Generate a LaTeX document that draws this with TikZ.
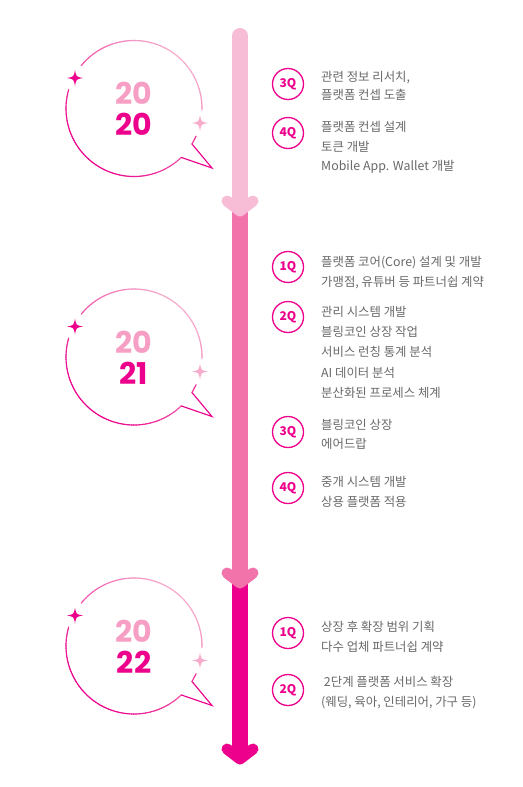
\documentclass[tikz,border=0pt]{standalone}
\usepackage{fontspec}
\newfontfamily\kr{Noto Sans CJK KR}
\newfontfamily\yr{Poppins}
\definecolor{lp}{RGB}{247,188,214}
\definecolor{mp}{RGB}{241,115,170}
\definecolor{hp}{RGB}{236,0,140}
\definecolor{gl}{RGB}{247,172,205}
\definecolor{yl}{RGB}{246,158,196}
\definecolor{tg}{RGB}{105,105,105}
\tikzset{
  bubline/.style={line width=1.15pt, line cap=round},
  shaft/.style={line width=16pt},
  chev/.style={line width=11pt, line cap=round, line join=round},
  yrtop/.style={font=\yr\bfseries\fontsize{30}{30}\selectfont, text=yl, inner sep=0pt},
  yrbot/.style={font=\yr\bfseries\fontsize{30}{30}\selectfont, text=hp, inner sep=0pt},
  qbadge/.style={circle, draw=hp, line width=1.3pt, minimum size=31pt, inner sep=0pt, text=hp, font=\kr\bfseries\fontsize{12}{12}\selectfont},
  itemtxt/.style={anchor=base west, inner sep=0pt, text=tg, font=\kr\fontsize{12.4}{14}\selectfont}
}
\newcommand\mybub[2]{%
  \begin{scope}[shift={(#1,#2)}]
    \foreach \a in {46,48,...,194} {%
      \pgfmathtruncatemacro\p{50*(1+(sin(\a+1)-cos(\a+1))/1.4142)}%
      \draw[bubline, hp!\p!gl] (\a:68) arc[start angle=\a, end angle=\a+2.2, radius=68];}
    \foreach \a in {219,221,...,359} {%
      \pgfmathtruncatemacro\p{50*(1+(sin(\a+1)-cos(\a+1))/1.4142)}%
      \draw[bubline, hp!\p!gl] (\a:68) arc[start angle=\a, end angle=\a+2.2, radius=68];}
    \draw[bubline, hp, line join=miter] (46:68) -- (78,59.5) -- (58,35.5);
    \draw[bubline, hp!75!gl] (58,35.5) -- (24:68);
    \begin{scope}[shift={(-59,-30.5)}]
      \fill[hp] (8,0) .. controls (1.2,1.2) .. (0,8) .. controls (-1.2,1.2) .. (-8,0) .. controls (-1.2,-1.2) .. (0,-8) .. controls (1.2,-1.2) .. (8,0) -- cycle;
    \end{scope}
    \begin{scope}[shift={(66,14.5)}]
      \fill[gl] (8,0) .. controls (1.2,1.2) .. (0,8) .. controls (-1.2,1.2) .. (-8,0) .. controls (-1.2,-1.2) .. (0,-8) .. controls (1.2,-1.2) .. (8,0) -- cycle;
    \end{scope}
  \end{scope}}
\begin{document}
\begin{tikzpicture}[x=1pt, y=-1pt]
\useasboundingbox[fill=white] (0,0) rectangle (522,787);
% arrow coordinates
\coordinate (a1s) at (240,36);
\coordinate (a1t) at (240,211);
\coordinate (a1l) at (227,201);
\coordinate (a1r) at (253,201);
\coordinate (a2s) at (240,205);
\coordinate (a2t) at (240,583);
\coordinate (a2l) at (227,573);
\coordinate (a2r) at (253,573);
\coordinate (a3s) at (240,577);
\coordinate (a3t) at (240,759);
\coordinate (a3l) at (227,749);
\coordinate (a3r) at (253,749);
\coordinate (a1e) at (240,205);
\coordinate (a2e) at (240,580);
\coordinate (a3e) at (240,756);
% segment 3
\draw[shaft, hp] (a3s) -- (a3e);
\draw[chev, hp] (a3l) -- (a3t) -- (a3r);
% segment 2
\draw[shaft, mp] (a2s) -- (a2e);
\draw[chev, mp] (a2l) -- (a2t) -- (a2r);
% segment 1
\draw[shaft, lp, line cap=round] (a1s) -- (a1e);
\draw[chev, lp] (a1l) -- (a1t) -- (a1r);
% bubbles
\mybub{134}{108.5}
\mybub{134}{357}
\mybub{134}{646}
\node[yrtop] (y1a) at (134,93) {20};
\node[yrbot] (y1b) at (134,124.5) {20};
\node[yrtop] (y2a) at (134,342.5) {20};
\node[yrbot] (y2b) at (134,373.5) {21};
\node[yrtop] (y3a) at (134,631) {20};
\node[yrbot] (y3b) at (134,662) {22};
% 2020
\node[qbadge] (q1) at (288,84) {3Q};
\node[itemtxt] (t1a) at (321,81.5) {관련 정보 리서치,};
\node[itemtxt] (t1b) at (321,99.5) {플랫폼 컨셉 도출};
\node[qbadge] (q2) at (288,133) {4Q};
\node[itemtxt] (t2a) at (321,131.5) {플랫폼 컨셉 설계};
\node[itemtxt] (t2b) at (321,151.5) {토큰 개발};
\node[itemtxt] (t2c) at (321,170.5) {Mobile App. Wallet 개발};
% 2021
\node[qbadge] (q3) at (288,267) {1Q};
\node[itemtxt] (t3a) at (321,266.5) {플랫폼 코어(Core) 설계 및 개발};
\node[itemtxt] (t3b) at (321,286.5) {가맹점, 유튜버 등 파트너쉽 계약};
\node[qbadge] (q4) at (288,317) {2Q};
\node[itemtxt] (t4a) at (321,316.5) {관리 시스템 개발};
\node[itemtxt] (t4b) at (321,336.5) {블링코인 상장 작업};
\node[itemtxt] (t4c) at (321,356.5) {서비스 런칭 통계 분석};
\node[itemtxt] (t4d) at (321,377) {AI 데이터 분석};
\node[itemtxt] (t4e) at (321,397) {분산화된 프로세스 체계};
\node[qbadge] (q5) at (288,432) {3Q};
\node[itemtxt] (t5a) at (321,429.5) {블링코인 상장};
\node[itemtxt] (t5b) at (321,448.5) {에어드랍};
\node[qbadge] (q6) at (288,488) {4Q};
\node[itemtxt] (t6a) at (321,486.5) {중개 시스템 개발};
\node[itemtxt] (t6b) at (321,506.5) {상용 플랫폼 적용};
% 2022
\node[qbadge] (q7) at (288,633) {1Q};
\node[itemtxt] (t7a) at (321,631.5) {상장 후 확장 범위 기획};
\node[itemtxt] (t7b) at (321,651.5) {다수 업체 파트너쉽 계약};
\node[qbadge] (q8) at (288,690) {2Q};
\node[itemtxt] (t8a) at (321,686.5) {\ 2단계 플랫폼 서비스 확장};
\node[itemtxt] (t8b) at (321,706.5) {(웨딩, 육아, 인테리어, 가구 등)};
\end{tikzpicture}
\end{document}
